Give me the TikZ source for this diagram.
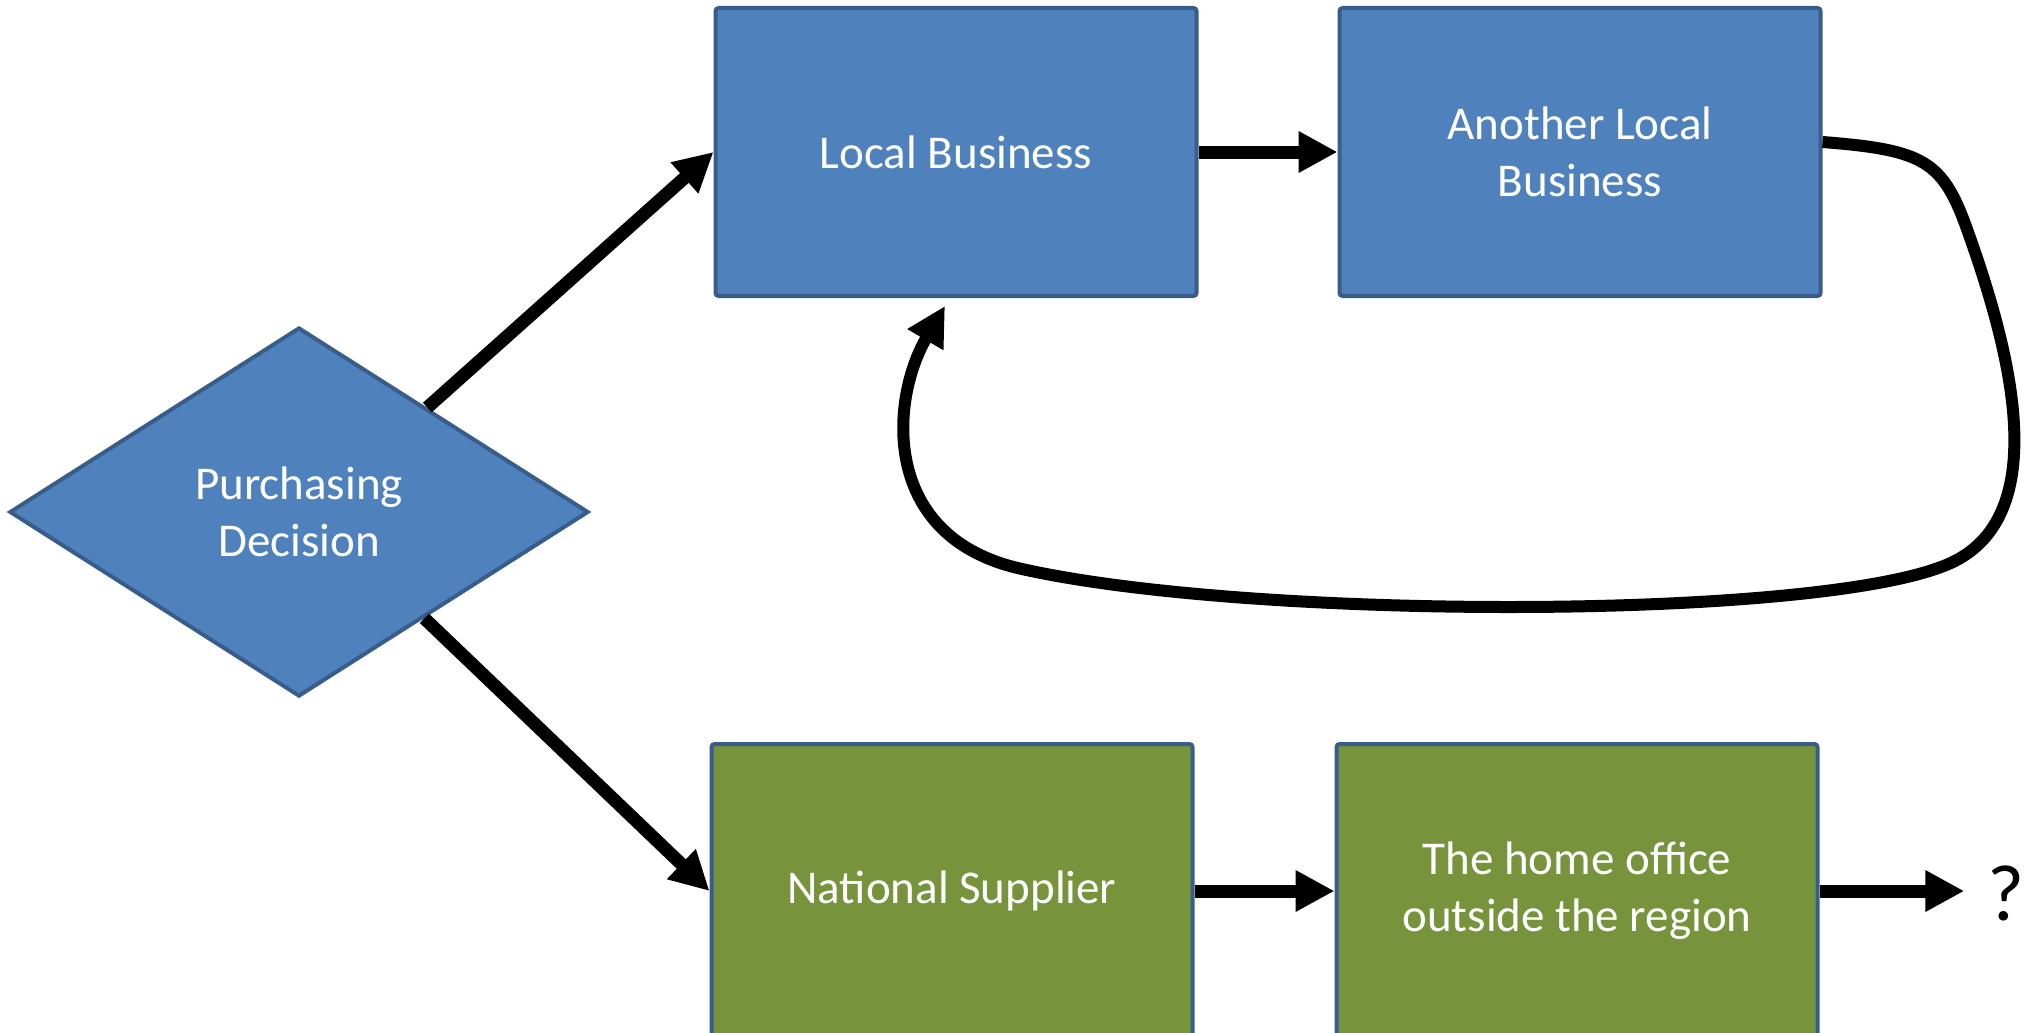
\documentclass[tikz,border=0pt]{standalone}
\usepackage{fontspec}
\setmainfont{Carlito}
\usetikzlibrary{shapes.geometric,arrows.meta,calc}
\definecolor{boxblue}{HTML}{4F81BD}
\definecolor{boxgreen}{HTML}{77933C}
\definecolor{boxedge}{HTML}{385D8A}
\begin{document}
\begin{tikzpicture}[x=1pt,y=-1pt,
  box/.style={draw=boxedge, line width=4pt, rounded corners=3pt, minimum width=481pt, minimum height=288pt, inner sep=0pt, text=white, align=center, font=\fontsize{47}{57}\selectfont},
  bluebox/.style={box, fill=boxblue},
  greenbox/.style={box, fill=boxgreen, minimum height=294pt},
  conn/.style={line width=13pt, -{Triangle[length=39pt,width=39pt]}},
]
\useasboundingbox (0,0) rectangle (2029,1033);
\node[bluebox] (lb) at (956,152) {Local Business};
\node[bluebox] (alb) at (1580,152) {Another Local\\Business};
\node[greenbox] (ns) at (952,891) {National Supplier};
\node[greenbox] (ho) at (1577,891) {The home office\\outside the region};
\node[diamond, draw=boxedge, fill=boxblue, line width=4pt, minimum width=579pt, minimum height=369pt, inner sep=0pt, text=white, align=center, font=\fontsize{47}{57}\selectfont] (pd) at (299,512) {Purchasing\\Decision};
\node[inner sep=0pt, font=\fontsize{80}{96}\selectfont] (q) at (2006,893) {?};
\coordinate (qin) at ([xshift=-23pt]q.west);
\coordinate (lbin) at ([xshift=-11pt,yshift=-8pt]lb.south);
\coordinate (albout) at ([yshift=10pt]alb.east);
\coordinate (pdup) at ($(pd.north)!0.44!(pd.east)$);
\coordinate (pddown) at ($(pd.south)!0.43!(pd.east)$);
\draw[conn] (lb.east) -- (alb.west);
\draw[conn] (ns.east) -- (ho.west);
\draw[conn] (ho.east) -- (ho.east -| qin);
\draw[conn] (pdup) -- (lb.west);
\draw[conn] (pddown) -- (ns.west);
\draw[line width=12pt, -{Triangle[length=39pt,width=39pt]}] (albout) .. controls (1925,150) and (1943,161) .. (1968,232) .. controls (2010,350) and (2058,525) .. (1941,567) .. controls (1800,620) and (1250,620) .. (1022,569) .. controls (880,538) and (890,400) .. (lbin);
\end{tikzpicture}
\end{document}
